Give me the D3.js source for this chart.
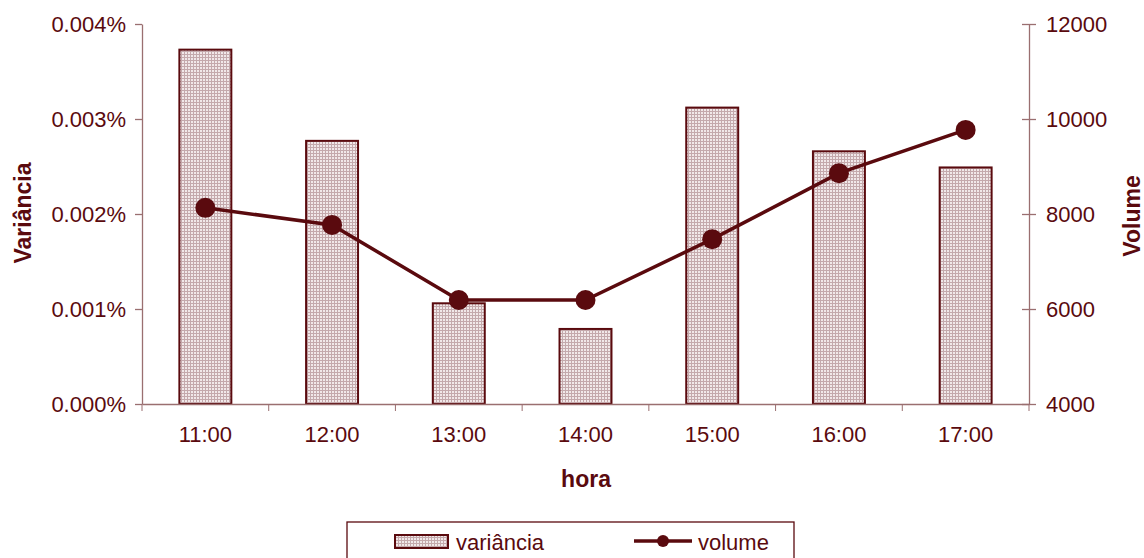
<!DOCTYPE html>
<html>
<head>
<meta charset="utf-8">
<script src="https://cdn.jsdelivr.net/npm/d3@7"></script>
<style>
  body { margin: 0; background: #fff; }
  svg { display: block; font-family: "Liberation Sans", Arial, sans-serif; }
</style>
</head>
<body>
<svg></svg>
<script>
// Chart data
const horas = ["11:00", "12:00", "13:00", "14:00", "15:00", "16:00", "17:00"];
const variancia = [0.00373, 0.00277, 0.00106, 0.00079, 0.00312, 0.00266, 0.00249]; // in %
const volume = [8130, 7770, 6190, 6190, 7470, 8860, 9770];
const varTicks = [0, 0.001, 0.002, 0.003, 0.004];
const volTicks = [4000, 6000, 8000, 10000, 12000];

const svgWidth = 1144, svgHeight = 558;
const margin = { top: 24, right: 115, bottom: 154, left: 142 };
const chartWidth = svgWidth - margin.left - margin.right;
const chartHeight = svgHeight - margin.top - margin.bottom;

const dark = "#5a0a0e";
const axisColor = "#9a6f70";

const svg = d3.select("svg")
    .attr("width", svgWidth)
    .attr("height", svgHeight);

// Fine checked fill for the bars
const defs = svg.append("defs");
const pat = defs.append("pattern")
    .attr("id", "checks")
    .attr("patternUnits", "userSpaceOnUse")
    .attr("width", 3).attr("height", 3);
pat.append("rect").attr("width", 3).attr("height", 3).attr("fill", "#f1e8e9");
pat.append("rect").attr("width", 3).attr("height", 1).attr("fill", "#c4a9ac");
pat.append("rect").attr("width", 1).attr("height", 3).attr("fill", "#c4a9ac");

const chart = svg.append("g")
    .attr("transform", `translate(${margin.left},${margin.top})`);

// Scales
const x = d3.scaleBand().domain(horas).range([0, chartWidth]).paddingInner(0.59).paddingOuter(0.295);
const xCat = d3.scaleBand().domain(horas).range([0, chartWidth]);
const yLeft = d3.scaleLinear().domain([0, 0.004]).range([chartHeight, 0]);
const yRight = d3.scaleLinear().domain([4000, 12000]).range([chartHeight, 0]);

// Bars
chart.selectAll(".bar")
    .data(horas)
    .join("rect")
    .attr("class", "bar")
    .attr("x", d => x(d))
    .attr("width", x.bandwidth())
    .attr("y", (d, i) => yLeft(variancia[i]))
    .attr("height", (d, i) => chartHeight - yLeft(variancia[i]))
    .attr("fill", "url(#checks)")
    .attr("stroke", dark)
    .attr("stroke-width", 2);

// Axes
const leftAxis = chart.append("g")
    .call(d3.axisLeft(yLeft).tickValues(varTicks).tickFormat(d3.format(".3f")).tickSize(7).tickSizeOuter(0));
leftAxis.selectAll(".tick text").text(d => d3.format(".3f")(d) + "%");

const rightAxis = chart.append("g")
    .attr("transform", `translate(${chartWidth},0)`)
    .call(d3.axisRight(yRight).tickValues(volTicks).tickFormat(d3.format("d")).tickSize(0).tickSizeOuter(0));
rightAxis.selectAll(".tick line").attr("x1", -7).attr("x2", 7);

const bottomAxis = chart.append("g")
    .attr("transform", `translate(0,${chartHeight})`)
    .call(d3.axisBottom(xCat).tickSize(0).tickSizeOuter(0));
bottomAxis.selectAll(".tick line").remove();
bottomAxis.selectAll(".sep")
    .data(d3.range(horas.length + 1))
    .join("line")
    .attr("class", "sep")
    .attr("x1", i => i * xCat.step()).attr("x2", i => i * xCat.step())
    .attr("y1", 0).attr("y2", 7)
    .attr("stroke", axisColor);

[leftAxis, rightAxis, bottomAxis].forEach(a => {
    a.select(".domain").attr("stroke", axisColor).attr("stroke-width", 1.3);
    a.selectAll(".tick line").attr("stroke", axisColor).attr("stroke-width", 1.3);
    a.selectAll(".tick text").attr("fill", dark).style("font-size", "22px");
});
leftAxis.selectAll(".tick text").attr("x", -16);
rightAxis.selectAll(".tick text").attr("x", 17);
bottomAxis.selectAll(".tick text").attr("y", 22);

// Volume line
const line = d3.line()
    .x((d, i) => xCat(horas[i]) + xCat.bandwidth() / 2)
    .y(d => yRight(d));
chart.append("path")
    .datum(volume)
    .attr("d", line)
    .attr("fill", "none")
    .attr("stroke", dark)
    .attr("stroke-width", 3.5);
chart.selectAll(".pt")
    .data(volume)
    .join("circle")
    .attr("class", "pt")
    .attr("cx", (d, i) => xCat(horas[i]) + xCat.bandwidth() / 2)
    .attr("cy", d => yRight(d))
    .attr("r", 10)
    .attr("fill", dark);

// Axis titles
svg.append("text")
    .attr("x", 586).attr("y", 487)
    .attr("text-anchor", "middle")
    .style("font-size", "23px").style("font-weight", "bold")
    .attr("fill", dark)
    .text("hora");
svg.append("text")
    .attr("transform", "translate(31,213) rotate(-90)")
    .attr("text-anchor", "middle")
    .style("font-size", "23px").style("font-weight", "bold")
    .attr("fill", dark)
    .text("Variância");
svg.append("text")
    .attr("transform", "translate(1140,216) rotate(-90)")
    .attr("text-anchor", "middle")
    .style("font-size", "23px").style("font-weight", "bold")
    .attr("fill", dark)
    .text("Volume");

// Legend
const legend = svg.append("g").attr("transform", "translate(347,522)");
legend.append("rect")
    .attr("width", 447).attr("height", 40)
    .attr("fill", "#fff").attr("stroke", dark).attr("stroke-width", 1.3);
legend.append("rect")
    .attr("x", 48).attr("y", 13).attr("width", 53).attr("height", 13)
    .attr("fill", "url(#checks)").attr("stroke", dark).attr("stroke-width", 2);
legend.append("text")
    .attr("x", 109).attr("y", 28)
    .style("font-size", "22px").attr("fill", dark)
    .text("variância");
legend.append("line")
    .attr("x1", 287).attr("x2", 345).attr("y1", 19).attr("y2", 19)
    .attr("stroke", dark).attr("stroke-width", 3.5);
legend.append("circle")
    .attr("cx", 316).attr("cy", 19).attr("r", 6).attr("fill", dark);
legend.append("text")
    .attr("x", 351).attr("y", 28)
    .style("font-size", "22px").attr("fill", dark)
    .text("volume");
</script>
</body>
</html>
